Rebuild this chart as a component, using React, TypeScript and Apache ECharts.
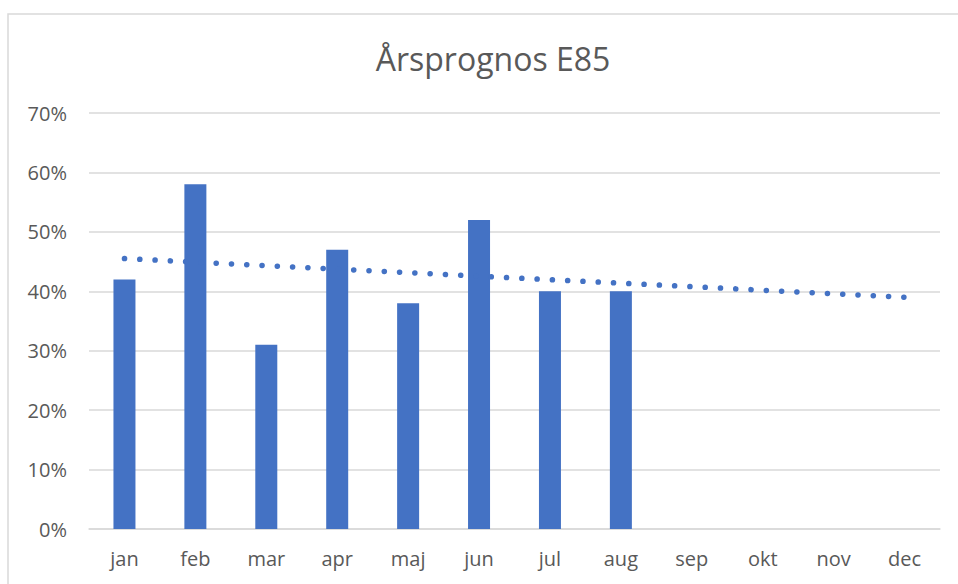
import React, { useEffect, useRef } from "react";
import * as echarts from "echarts";

const TITLE = "Årsprognos E85";
const months = ["jan", "feb", "mar", "apr", "maj", "jun", "jul", "aug", "sep", "okt", "nov", "dec"];
const values: (number | null)[] = [42, 58, 31, 47, 38, 52, 40, 40, null, null, null, null];
// linear trendline endpoints (jan and dec)
const trend: (number | null)[] = [45.5, null, null, null, null, null, null, null, null, null, null, 39.0];
const yTicks = [0, 10, 20, 30, 40, 50, 60, 70];

const FONT = "'Open Sans', 'Noto Sans', sans-serif";
const TEXT = "#595959";

export default function App() {
  const ref = useRef<HTMLDivElement>(null);
  useEffect(() => {
    document.body.style.margin = "0";
    const chart = echarts.init(ref.current!, null, { renderer: "svg" });
    chart.setOption({
      animation: false,
      backgroundColor: "#ffffff",
      textStyle: { fontFamily: FONT },
      graphic: [
        {
          type: "rect",
          shape: { x: 8, y: 14, width: 1000, height: 700 },
          style: { fill: "none", stroke: "#d9d9d9", lineWidth: 1.5 },
          z: -1,
          silent: true,
        },
      ],
      title: {
        text: TITLE,
        left: 488,
        top: 37,
        textAlign: "center",
        textStyle: { fontFamily: FONT, fontSize: 32, fontWeight: "normal", color: TEXT },
      },
      grid: { left: 89, right: 18, top: 113, bottom: 55, containLabel: false },
      xAxis: {
        type: "category",
        data: months,
        axisLine: { show: true, lineStyle: { color: "#d9d9d9", width: 1.5 } },
        axisTick: { show: false },
        axisLabel: { color: TEXT, fontSize: 20, fontFamily: FONT, margin: 19 },
      },
      yAxis: {
        type: "value",
        min: yTicks[0],
        max: yTicks[yTicks.length - 1],
        interval: 10,
        axisLine: { show: false },
        axisTick: { show: false },
        splitLine: { show: true, lineStyle: { color: "#d9d9d9", width: 1.5 } },
        axisLabel: { color: TEXT, fontSize: 20, fontFamily: FONT, margin: 22, formatter: "{value}%" },
      },
      series: [
        {
          type: "bar",
          data: values,
          barWidth: 22,
          itemStyle: { color: "#4472C4" },
          z: 2,
        },
        {
          type: "line",
          data: trend,
          connectNulls: true,
          symbol: "none",
          lineStyle: { color: "#4472C4", width: 5.5, type: [0.1, 15.2], cap: "round" },
          z: 3,
        },
      ],
    });
    return () => chart.dispose();
  }, []);
  return <div ref={ref} style={{ position: "fixed", left: 0, top: 0, width: 958, height: 584 }} />;
}
